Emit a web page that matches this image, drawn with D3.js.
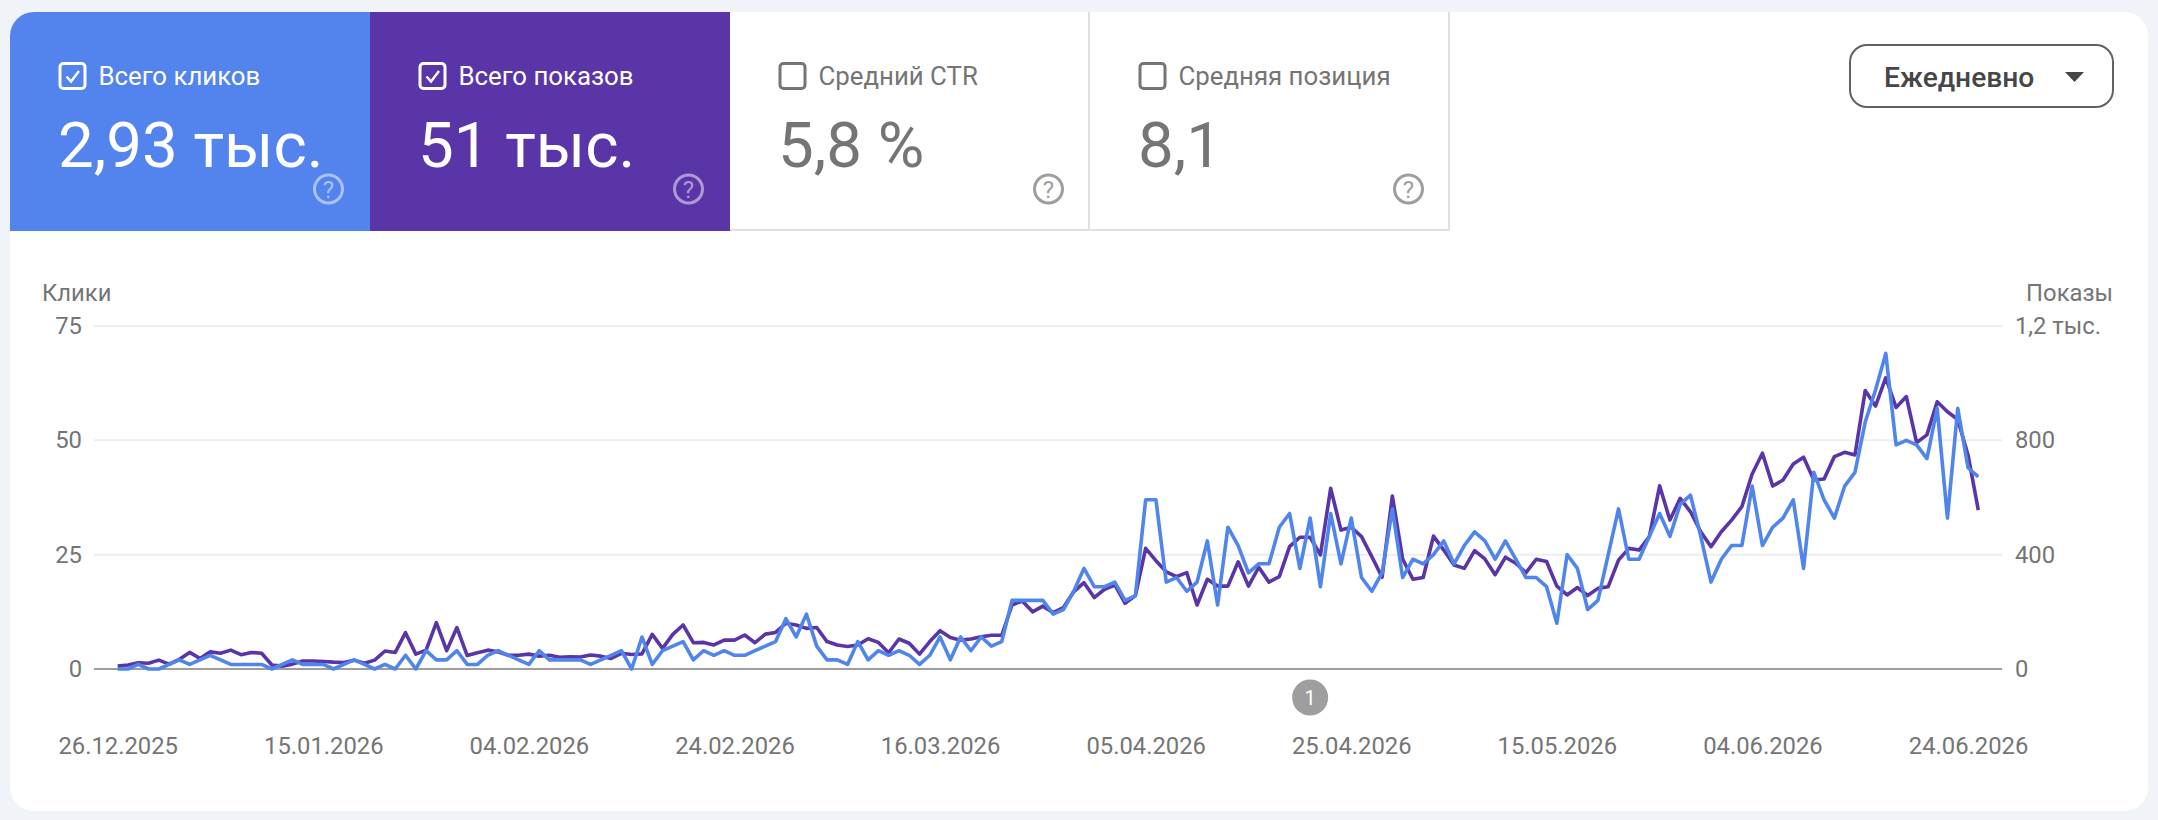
<!DOCTYPE html>
<html>
<head>
<meta charset="utf-8">
<script src="https://cdn.jsdelivr.net/npm/d3@7"></script>
<style>
html, body { margin: 0; padding: 0; background: #f0f4f9; }
svg { display: block; font-family: Roboto, sans-serif; }
</style>
</head>
<body>
<svg id="chart" width="2158" height="820"></svg>
<script>
'use strict'

var startDate = "26.12.2025";
var endDate = "25.06.2026";
var tickLabels = ["26.12.2025", "15.01.2026", "04.02.2026", "24.02.2026", "16.03.2026", "05.04.2026", "25.04.2026", "15.05.2026", "04.06.2026", "24.06.2026"];
var clickTicks = [0, 25, 50, 75];
var impressionTicks = [0, 400, 800, 1200];
var annotationDates = ["21.04.2026"];

var clicks = [0,0,1,0,0,1,2,1,2,3,2,1,1,1,1,0,1,2,1,1,1,0,1,2,1,0,1,0,3,0,4,2,2,4,1,1,3,4,3,2,1,4,2,2,
	2,2,1,2,3,4,0,7,1,4,5,6,2,4,3,4,3,3,4,5,6,11,7,12,5,2,2,1,6,2,4,3,4,3,1,3,7,2,7,4,7,5,6,15,15,15,15,12,13,17,22,18,18,19,15,16,
	37,37,19,20,17,19,28,14,31,27,21,23,23,31,34,22,33,18,34,23,33,20,17,21,35,20,24,23,25,28,23,27,30,28,24,
	28,24,20,20,18,10,25,22,13,15,25,35,24,24,29,34,29,36,38,29,19,24,27,27,40,27,31,33,37,22,43,37,33,40,43,54,61,69,49,50,49,46,57,33,57,44,42];

var impressions = [10,14,22,20,31,17,34,58,37,60,55,66,50,58,55,14,10,17,28,28,26,24,23,31,20,31,63,58,127,52,66,162,64,145,47,57,66,60,48,48,52,45,48,41,
	43,42,49,45,37,55,51,53,121,72,121,154,92,93,84,101,101,119,92,122,128,160,154,142,145,96,84,79,84,106,93,57,105,90,52,96,134,110,101,105,113,118,118,224,238,200,220,197,215,270,302,250,279,294,230,257,
	422,379,340,323,337,224,314,290,290,375,290,356,304,323,428,461,461,399,632,486,496,463,393,321,605,385,314,320,465,416,364,352,414,385,330,
	391,370,337,384,376,290,259,285,257,282,288,381,422,416,463,641,521,597,550,480,428,480,521,568,682,755,640,661,717,741,661,665,743,758,749,974,920,1019,915,953,792,819,935,900,873,749,556];

var tiles = [
	{label: "Всего кликов", value: "2,93 тыс.", on: true, fill: "#5383ec"},
	{label: "Всего показов", value: "51 тыс.", on: true, fill: "#5a35a8"},
	{label: "Средний CTR", value: "5,8 %", on: false, fill: "#fff"},
	{label: "Средняя позиция", value: "8,1", on: false, fill: "#fff"}
];

var parseDate = d3.utcParse("%d.%m.%Y");
var days = d3.utcDay.range(parseDate(startDate), d3.utcDay.offset(parseDate(endDate), 1));

var svg = d3.select("#chart");

svg.append("clipPath").attr("id", "cardClip")
	.append("rect").attr("x", 10).attr("y", 12).attr("width", 2138).attr("height", 799).attr("rx", 24);

svg.append("rect").attr("x", 10).attr("y", 12).attr("width", 2138).attr("height", 799).attr("rx", 24).attr("fill", "#fff");

drawTiles();
drawButton();
drawChart();

function drawTiles() {
	var tileWidth = 360, tileHeight = 219;
	var g = svg.append("g").attr("clip-path", "url(#cardClip)");
	var tile = g.selectAll("g.tile").data(tiles).enter().append("g")
		.attr("class", "tile")
		.attr("transform", function(d, i) { return "translate(" + (10 + i * tileWidth) + ",12)"; });

	tile.append("rect")
		.attr("width", tileWidth).attr("height", tileHeight)
		.attr("fill", function(d) { return d.fill; });

	// grey edge on the switched off tiles only
	var off = tile.filter(function(d) { return !d.on; });
	off.append("rect").attr("x", 0).attr("y", tileHeight - 2).attr("width", tileWidth).attr("height", 2).attr("fill", "#e0e0e0");
	off.append("rect").attr("x", tileWidth - 2).attr("y", 0).attr("width", 2).attr("height", tileHeight).attr("fill", "#e0e0e0");

	var ink = function(d) { return d.on ? "#fff" : "#757575"; };

	tile.append("rect")
		.attr("x", 50).attr("y", 51.5).attr("width", 25).attr("height", 25).attr("rx", 3.5)
		.attr("fill", "none").attr("stroke", ink).attr("stroke-width", 3);

	tile.filter(function(d) { return d.on; }).append("path")
		.attr("d", "M56.5 64.5 L61 69.5 L69 59").attr("fill", "none").attr("stroke", "#fff").attr("stroke-width", 2.4);

	tile.append("text")
		.attr("x", 88.5).attr("y", 72.5)
		.attr("font-size", 25.8).attr("fill", ink)
		.text(function(d) { return d.label; });

	tile.append("text")
		.attr("x", 48).attr("y", 155)
		.attr("font-size", 63.6).attr("fill", ink)
		.text(function(d) { return d.value; });

	tile.append("circle")
		.attr("cx", 318.5).attr("cy", 177).attr("r", 14)
		.attr("fill", "none").attr("stroke", function(d) { return d.on ? "rgba(255,255,255,0.5)" : "#9e9e9e"; }).attr("stroke-width", 3);

	tile.append("text")
		.attr("x", 318.5).attr("y", 185.5)
		.attr("text-anchor", "middle").attr("font-size", 24)
		.attr("fill", function(d) { return d.on ? "rgba(255,255,255,0.5)" : "#9e9e9e"; })
		.text("?");
}

function drawButton() {
	var g = svg.append("g");
	g.append("rect")
		.attr("x", 1850).attr("y", 45).attr("width", 263).attr("height", 62).attr("rx", 17)
		.attr("fill", "#fff").attr("stroke", "#5f6368").attr("stroke-width", 2);
	g.append("text")
		.attr("x", 1884).attr("y", 86.5)
		.attr("font-size", 28.2).attr("font-weight", 500).attr("fill", "#444746")
		.text("Ежедневно");
	g.append("path").attr("d", "M2065 72 L2084 72 L2074.5 82 Z").attr("fill", "#444746");
}

function drawChart() {
	var x = d3.scaleUtc().domain([parseDate(startDate), parseDate(endDate)]).range([117.7, 1978.3]);
	var yClicks = d3.scaleLinear().domain([0, 75]).range([669, 326]);
	var yImpressions = d3.scaleLinear().domain([0, 1200]).range([669, 326]);

	var gridLeft = 94, gridRight = 2002;

	// grid, from the left axis ticks
	svg.append("g").selectAll("line").data(clickTicks.slice(1)).enter().append("line")
		.attr("x1", gridLeft).attr("x2", gridRight)
		.attr("y1", yClicks).attr("y2", yClicks)
		.attr("stroke", "#eeeeee").attr("stroke-width", 2);

	var formatImpressions = function(d) { return d >= 1000 ? String(d / 1000).replace(".", ",") + " тыс." : d; };

	var leftAxis = svg.append("g").attr("transform", "translate(82,0)")
		.call(d3.axisLeft(yClicks).tickValues(clickTicks).tickSize(0).tickPadding(0));

	var rightAxis = svg.append("g").attr("transform", "translate(2015,0)")
		.call(d3.axisRight(yImpressions).tickValues(impressionTicks).tickSize(0).tickPadding(0).tickFormat(formatImpressions));

	var bottomAxis = svg.append("g").attr("transform", "translate(0,737)")
		.call(d3.axisBottom(x).tickValues(tickLabels.map(parseDate)).tickSize(0).tickPadding(0).tickFormat(d3.utcFormat("%d.%m.%Y")));

	[leftAxis, rightAxis, bottomAxis].forEach(function(axis) {
		axis.select(".domain").remove();
		axis.selectAll("text").attr("font-family", "Roboto, sans-serif").attr("font-size", 23.8).attr("fill", "#757575");
	});

	svg.append("text").attr("x", 42).attr("y", 301).attr("font-size", 23.8).attr("fill", "#757575").text("Клики");
	svg.append("text").attr("x", 2113).attr("y", 301).attr("text-anchor", "end").attr("font-size", 23.8).attr("fill", "#757575").text("Показы");

	svg.append("line")
		.attr("x1", gridLeft).attr("x2", gridRight)
		.attr("y1", yClicks(0)).attr("y2", yClicks(0))
		.attr("stroke", "#9e9e9e").attr("stroke-width", 2);

	var lineImpressions = d3.line()
		.x(function(d, i) { return x(days[i]); })
		.y(function(d) { return yImpressions(d); });
	var lineClicks = d3.line()
		.x(function(d, i) { return x(days[i]); })
		.y(function(d) { return yClicks(d); });

	svg.append("path").datum(impressions).attr("d", lineImpressions)
		.attr("fill", "none").attr("stroke", "#5a35a8").attr("stroke-width", 3.6).attr("stroke-linejoin", "round");
	svg.append("path").datum(clicks).attr("d", lineClicks)
		.attr("fill", "none").attr("stroke", "#5085ec").attr("stroke-width", 3.6).attr("stroke-linejoin", "round");

	var badge = svg.append("g").selectAll("g").data(annotationDates).enter().append("g")
		.attr("transform", function(d) { return "translate(" + x(parseDate(d)) + ",697.5)"; });
	badge.append("circle").attr("r", 18).attr("fill", "#9e9e9e");
	badge.append("text")
		.attr("y", 7).attr("text-anchor", "middle")
		.attr("font-size", 20).attr("fill", "#fff")
		.text(function(d, i) { return i + 1; });
}
</script>
</body>
</html>
